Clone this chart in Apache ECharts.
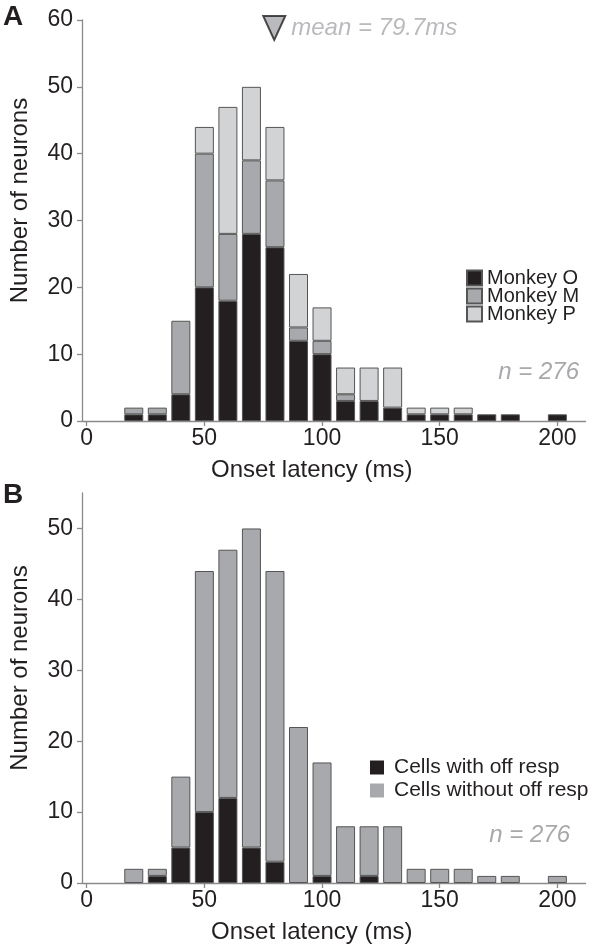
<!DOCTYPE html>
<html><head><meta charset="utf-8">
<script src="https://cdn.jsdelivr.net/npm/echarts@6/dist/echarts.min.js"></script>
<style>html,body{margin:0;padding:0;background:#fff}#c{width:589px;height:951px}</style>
</head><body><div id="c"></div>
<script>
// ---- data ----
const bins = [20, 30, 40, 50, 60, 70, 80, 90, 100, 110, 120, 130, 140, 150, 160, 170, 180, 190, 200];
const monkeyO = [1, 1, 4, 20, 18, 28, 26, 12, 10, 3, 3, 2, 1, 1, 1, 1, 1, 0, 1];
const monkeyM = [1, 1, 11, 20, 10, 11, 10, 2, 2, 1, 0, 0, 0, 0, 0, 0, 0, 0, 0];
const monkeyP = [0, 0, 0, 4, 19, 11, 8, 8, 5, 4, 5, 6, 1, 1, 1, 0, 0, 0, 0];
const withOff = [0, 1, 5, 10, 12, 5, 3, 0, 1, 0, 1, 0, 0, 0, 0, 0, 0, 0, 0];
const withoutOff = [2, 1, 10, 34, 35, 45, 41, 22, 16, 8, 7, 8, 2, 2, 2, 1, 1, 0, 1];
const xTickLabels = [0, 50, 100, 150, 200];
const yTicksA = [0, 10, 20, 30, 40, 50, 60];
const yTicksB = [0, 10, 20, 30, 40, 50];
const meanLatency = 79.7;
const nNeurons = 276;

// ---- styles ----
const FONT = '"Liberation Sans", Arial, Helvetica, sans-serif';
const TXT = '#231f20';
const AX = '#8a8a8a';
const BLACK = '#231f20', MID = '#a7a9ac', LIGHT = '#d1d3d4';
const BORDER = '#555555';

// value first (stacked dimension), bin second; encode maps them to y / x
function pairs(vals) { return bins.map((b, i) => [vals[i] === 0 ? '-' : vals[i], b]); }

function xAx(gi) {
  return {
    type: 'value', gridIndex: gi, min: -2, max: 212,
    axisLine: { show: true, onZero: false, lineStyle: { color: AX, width: 1.3 } },
    axisTick: { show: true, customValues: xTickLabels, length: 5, lineStyle: { color: AX, width: 1.3 } },
    axisLabel: { customValues: xTickLabels, fontSize: 23, color: TXT, fontFamily: FONT, margin: 6 },
    splitLine: { show: false },
    name: 'Onset latency (ms)', nameLocation: 'middle', nameGap: 37,
    nameTextStyle: { fontSize: 24, color: TXT, fontFamily: FONT, padding: [0, 44, 0, 0] }
  };
}
function yAx(gi, max, ticks) {
  return {
    type: 'value', gridIndex: gi, min: 0, max: max,
    axisLine: { show: true, onZero: false, lineStyle: { color: AX, width: 1.3 } },
    axisTick: { show: true, customValues: ticks, length: 5, lineStyle: { color: AX, width: 1.3 } },
    axisLabel: { customValues: ticks, fontSize: 23, color: TXT, fontFamily: FONT, margin: 9 },
    splitLine: { show: false },
    name: 'Number of neurons', nameLocation: 'middle', nameGap: 50,
    nameTextStyle: { fontSize: 24, color: TXT, fontFamily: FONT, padding: [0, 0, 0, 40] }
  };
}
function barSeries(name, vals, color, gi, stack) {
  return {
    type: 'bar', name: name, xAxisIndex: gi, yAxisIndex: gi, stack: stack,
    data: pairs(vals), encode: { x: 1, y: 0 }, barWidth: 19,
    itemStyle: { color: color, borderColor: BORDER, borderWidth: 1 },
    emphasis: { disabled: true }
  };
}

const option = {
  animation: false,
  backgroundColor: '#fff',
  textStyle: { fontFamily: FONT },
  grid: [
    { left: 76.2, top: 20, width: 509.4, height: 401 },
    { left: 76.2, top: 493, width: 509.4, height: 390 }
  ],
  xAxis: [xAx(0), xAx(1)],
  yAxis: [yAx(0, 60, yTicksA), yAx(1, 55, yTicksB)],
  legend: [
    {
      data: ['Monkey O', 'Monkey M', 'Monkey P'], orient: 'vertical',
      left: 466, top: 268, padding: 0, itemWidth: 15, itemHeight: 15, itemGap: -2,
      icon: 'rect', selectedMode: false,
      textStyle: { fontSize: 20, color: TXT, fontFamily: FONT, lineHeight: 18 }
    },
    {
      data: ['Cells with off resp', 'Cells without off resp'], orient: 'vertical',
      left: 370, top: 757, padding: 0, itemWidth: 14, itemHeight: 14, itemGap: 2,
      icon: 'rect', selectedMode: false,
      itemStyle: { borderWidth: 0 },
      textStyle: { fontSize: 21, color: TXT, fontFamily: FONT, lineHeight: 20, padding: [0, 0, 0, 5] }
    }
  ],
  series: [
    barSeries('Monkey O', monkeyO, BLACK, 0, 'A'),
    barSeries('Monkey M', monkeyM, MID, 0, 'A'),
    barSeries('Monkey P', monkeyP, LIGHT, 0, 'A'),
    barSeries('Cells with off resp', withOff, BLACK, 1, 'B'),
    barSeries('Cells without off resp', withoutOff, MID, 1, 'B'),
    {
      type: 'scatter', xAxisIndex: 0, yAxisIndex: 0, clip: false,
      data: [[meanLatency, 58.8]],
      symbol: 'triangle', symbolRotate: 180, symbolSize: [22, 24],
      itemStyle: { color: MID, borderColor: BLACK, borderWidth: 2 },
      label: {
        show: true, position: 'right', distance: 5,
        formatter: 'mean = ' + meanLatency + 'ms',
        fontSize: 24, fontStyle: 'italic', color: MID, fontFamily: FONT
      },
      emphasis: { disabled: true }, silent: true
    }
  ],
  graphic: [
    { type: 'text', left: 3, top: 3, style: { text: 'A', font: 'bold 28px ' + FONT, fill: TXT } },
    { type: 'text', left: 3, top: 481, style: { text: 'B', font: 'bold 28px ' + FONT, fill: TXT } },
    { type: 'text', right: 10, top: 360, style: { text: 'n = ' + nNeurons, font: 'italic 24px ' + FONT, fill: MID } },
    { type: 'text', right: 19, top: 823, style: { text: 'n = ' + nNeurons, font: 'italic 24px ' + FONT, fill: MID } }
  ]
};
const chart = echarts.init(document.getElementById('c'), null, { renderer: 'canvas' });
chart.setOption(option);
</script>
</body></html>
